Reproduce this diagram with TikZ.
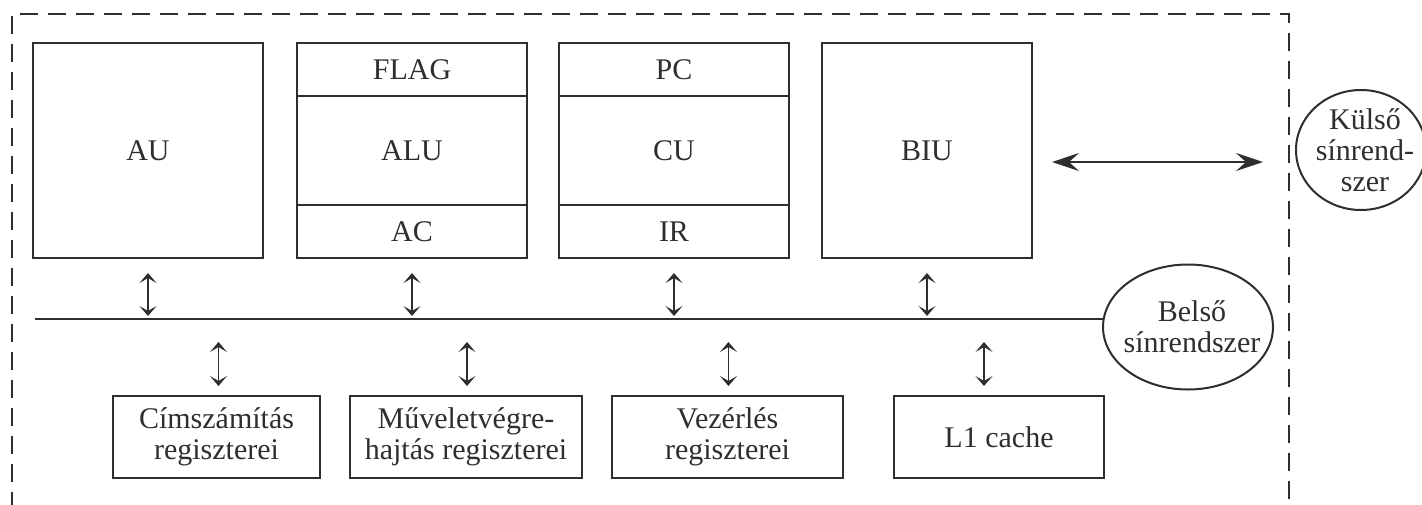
\documentclass[tikz,border=0pt]{standalone}
\usepackage{fontspec}
\setmainfont{Liberation Serif}
\usetikzlibrary{arrows.meta,positioning,calc,shapes.geometric}
\colorlet{ink}{black!82}

\begin{document}
\begin{tikzpicture}[x=1pt,y=-1pt,color=ink,font=\fontsize{30}{31}\selectfont,
   unit/.style={draw, line width=2.5pt, minimum width=230pt, minimum height=215pt, inner sep=0pt, outer sep=0pt},
   rowbox/.style={draw, line width=2.5pt, minimum width=230pt, minimum height=53pt, inner sep=0pt, outer sep=0pt},
   regbox/.style={draw, line width=2.5pt, minimum height=82pt, inner sep=0pt, outer sep=0pt, align=center},
   busnode/.style={draw, ellipse, line width=2pt, inner sep=0pt, outer sep=0pt},
   vbi/.style={{Stealth[length=10pt,width=17pt,inset=5pt]}-{Stealth[length=10pt,width=17pt,inset=5pt]}, line width=1.5pt},
   hbi/.style={{Stealth[length=27pt,width=18pt,inset=10pt]}-{Stealth[length=27pt,width=18pt,inset=10pt]}, line width=1.5pt}]

   \useasboundingbox (0,0) rectangle (1422,504);

   % processor frame
   \draw[line width=2pt, dash pattern=on 18pt off 10pt] (12,510) -- (12,14) -- (1289,14) -- (1289,510);

   % units
   \node[unit] (au) at (148,150.5) {AU};
   \node[unit, right=34pt of au] (alu) {ALU};
   \node[unit, right=32pt of alu] (cu) {CU};
   \node[unit, right=33pt of cu, minimum width=210pt] (biu) {BIU};

   \node[rowbox, anchor=north] (flag) at (alu.north) {FLAG};
   \node[rowbox, anchor=south] (ac) at (alu.south) {AC};
   \node[rowbox, anchor=north] (pc) at (cu.north) {PC};
   \node[rowbox, anchor=south] (ir) at (cu.south) {IR};

   % registers
   \node[regbox, minimum width=207pt] (cim) at (216.5,437) {Címszámítás\\regiszterei};
   \node[regbox, minimum width=232pt, right=30pt of cim] (mus) {Műveletvégre-\\hajtás regiszterei};
   \node[regbox, minimum width=231pt, right=30pt of mus] (vez) {Vezérlés\\regiszterei};
   \node[regbox, minimum width=210pt, right=51pt of vez] (l1) {L1 cache};

   % buses
   \node[busnode, minimum width=170pt, minimum height=125pt,
         label={[align=center, xshift=4pt]center:Belső\\sínrendszer}] (belso) at (1188,327) {};
   \node[busnode, minimum width=130pt, minimum height=120pt,
         label={[align=center, xshift=4pt]center:Külső\\sínrend-\\szer}] (kulso) at (1361,150) {};

   \coordinate (busL) at (35,319);
   \draw[line width=2.5pt] (busL) -- (busL -| belso.west);

   \foreach \n in {au,alu,cu,biu}
      \draw[vbi] ($(\n.south)+(0,15)$) -- ($(\n.south |- busL)+(0,-3)$);
   \foreach \n/\dx in {cim/2,mus/1,vez/1,l1/-15}
      \draw[vbi] ($(\n.north)+(\dx,-54)$) -- ($(\n.north)+(\dx,-10)$);

   \draw[hbi] ($(biu.east)+(20,11.5)$) -- ($(kulso.west)+(-33,12)$);

\end{tikzpicture}
\end{document}
